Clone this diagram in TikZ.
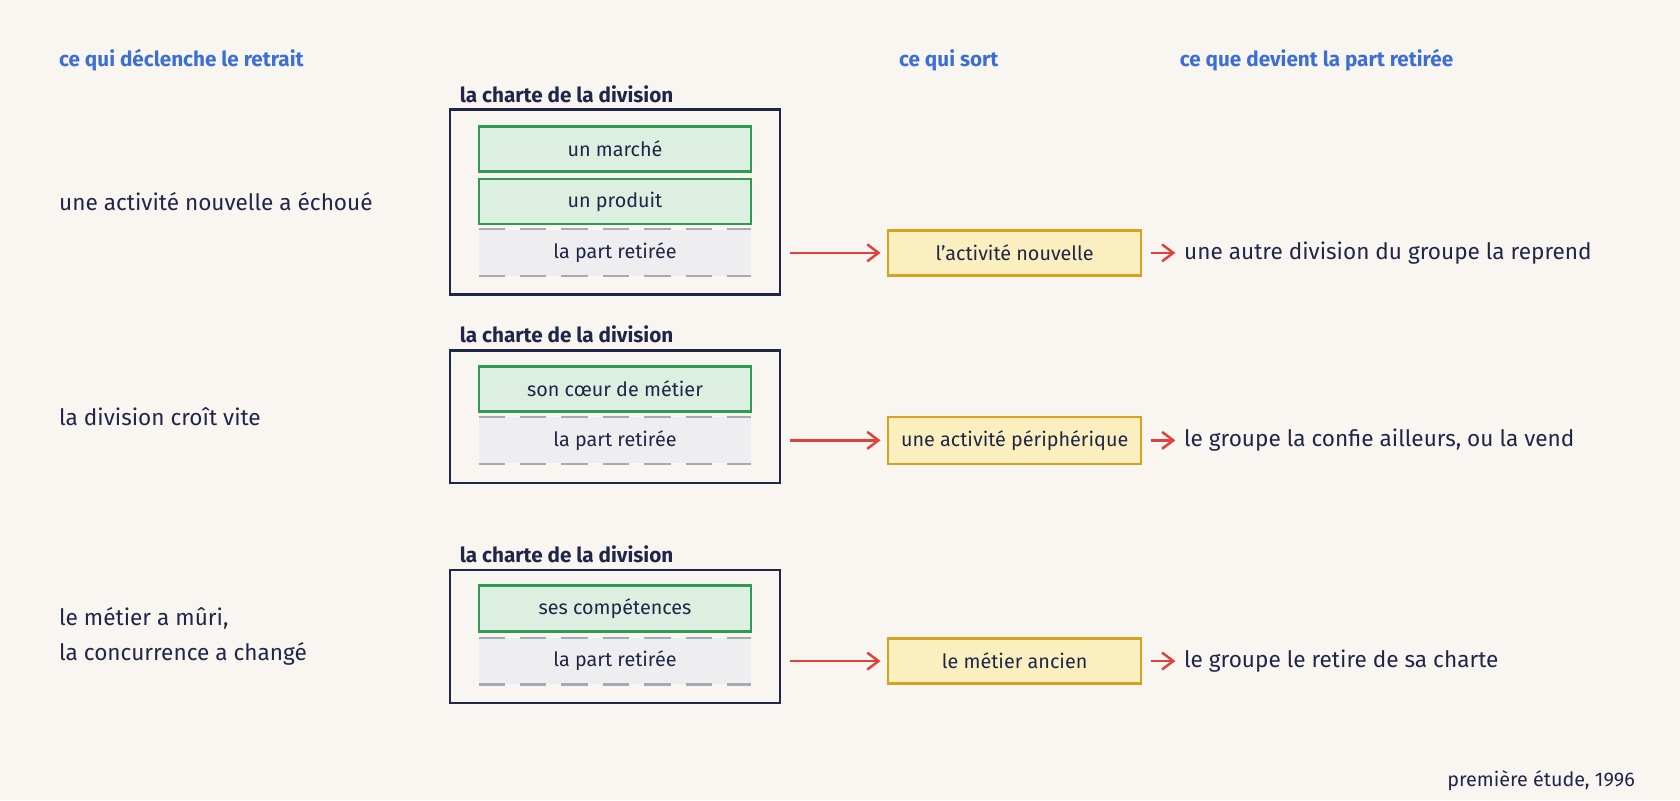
\documentclass[tikz,border=0pt]{standalone}
\usepackage{fontspec}
\setmainfont{Fira Sans}
\usetikzlibrary{arrows.meta}
\usetikzlibrary{positioning}
\definecolor{bg}{HTML}{F9F6F1}
\definecolor{ink}{HTML}{1F2647}
\definecolor{head}{HTML}{3B6FD6}
\definecolor{keepfill}{HTML}{DDEFE0}
\definecolor{keepline}{HTML}{2E9B52}
\definecolor{outfill}{HTML}{EEEDF0}
\definecolor{outline}{HTML}{A9A8B6}
\definecolor{goesfill}{HTML}{FBEFC0}
\definecolor{goesline}{HTML}{D9A21E}
\definecolor{arr}{HTML}{E0413A}

\tikzset{
  head/.style={anchor=west, text=head, font=\fontsize{11}{13}\selectfont\bfseries},
  cause/.style={anchor=west, text=ink, font=\fontsize{12}{19}\selectfont, align=left},
  charte/.style={anchor=west, text=ink, font=\fontsize{11}{13}\selectfont\bfseries},
  frame/.style={draw=ink, line width=1.3pt},
  keep/.style={draw=keepline, fill=keepfill, line width=1.3pt, text=ink,
    font=\fontsize{10.5}{12}\selectfont},
  part/.style={fill=outfill, text=ink, font=\fontsize{10.5}{12}\selectfont},
  cut/.style={draw=outline, line width=1.1pt, dash pattern=on 14pt off 8pt},
  goes/.style={draw=goesline, fill=goesfill, line width=1.3pt, text=ink,
    font=\fontsize{10.5}{12}\selectfont},
  fate/.style={anchor=west, text=ink, font=\fontsize{12}{15}\selectfont},
  flow/.style={draw=arr, line width=1.3pt, -{Straight Barb[length=6pt,width=9pt]}},
}

\begin{document}
\begin{tikzpicture}[x=0.02cm, y=-0.02cm]
  \fill[bg] (0,0) rectangle (1568,747);

  % column headers
  \node[head] (h1) at (49,56) {ce qui déclenche le retrait};
  \node[head] (h2) at (833,56) {ce qui sort};
  \node[head] (h3) at (1095,56) {ce que devient la part retirée};

  % first case
  \node[cause] (c1) at (49,188) {une activité nouvelle a échoué};
  \node[charte] (t1) at (423,88) {la charte de la division};
  \draw[frame] (420,102) rectangle (728,275);
  \node[keep, minimum width=254*0.02cm, minimum height=42*0.02cm] (k1a) at (574,139) {un marché};
  \node[keep, minimum width=254*0.02cm, minimum height=42*0.02cm] (k1b) at (574,188) {un produit};
  \node[part, minimum width=254*0.02cm, minimum height=43*0.02cm] (p1) at (574,236) {la part retirée};
  \draw[cut] (p1.north west) -- (p1.north east);
  \draw[cut] (p1.south west) -- (p1.south east);
  \node[goes, minimum width=236*0.02cm, minimum height=42*0.02cm] (g1) at (947,236) {l'activité nouvelle};
  \node[fate] (f1) at (1099,236) {une autre division du groupe la reprend};
  \draw[flow] ([xshift=36*0.02cm]p1.east) -- ([xshift=-6*0.02cm]g1.west);
  \draw[flow] ([xshift=8*0.02cm]g1.east) -- ([xshift=-2*0.02cm]f1.west);

  % second case
  \node[cause] (c2) at (49,389) {la division croît vite};
  \node[charte] (t2) at (423,312) {la charte de la division};
  \draw[frame] (420,327) rectangle (728,451);
  \node[keep, minimum width=254*0.02cm, minimum height=42*0.02cm] (k2) at (574,363) {son cœur de métier};
  \node[part, minimum width=254*0.02cm, minimum height=43*0.02cm] (p2) at (574,411) {la part retirée};
  \draw[cut] (p2.north west) -- (p2.north east);
  \draw[cut] (p2.south west) -- (p2.south east);
  \node[goes, minimum width=236*0.02cm, minimum height=44*0.02cm] (g2) at (947,411) {une activité périphérique};
  \node[fate] (f2) at (1099,411) {le groupe la confie ailleurs, ou la vend};
  \draw[flow] ([xshift=36*0.02cm]p2.east) -- ([xshift=-6*0.02cm]g2.west);
  \draw[flow] ([xshift=8*0.02cm]g2.east) -- ([xshift=-2*0.02cm]f2.west);

  % third case
  \node[cause] (c3) at (49,594) {le métier a mûri,\\la concurrence a changé};
  \node[charte] (t3) at (423,517) {la charte de la division};
  \draw[frame] (420,532) rectangle (728,656);
  \node[keep, minimum width=254*0.02cm, minimum height=43*0.02cm] (k3) at (574,568) {ses compétences};
  \node[part, minimum width=254*0.02cm, minimum height=43*0.02cm] (p3) at (574,617) {la part retirée};
  \draw[cut] (p3.north west) -- (p3.north east);
  \draw[cut] (p3.south west) -- (p3.south east);
  \node[goes, minimum width=236*0.02cm, minimum height=42*0.02cm] (g3) at (947,617) {le métier ancien};
  \node[fate] (f3) at (1099,617) {le groupe le retire de sa charte};
  \draw[flow] ([xshift=36*0.02cm]p3.east) -- ([xshift=-6*0.02cm]g3.west);
  \draw[flow] ([xshift=8*0.02cm]g3.east) -- ([xshift=-2*0.02cm]f3.west);

  \node[anchor=east, text=ink, font=\fontsize{10.5}{12}\selectfont] (src) at (1532,729) {première étude, 1996};
\end{tikzpicture}
\end{document}
